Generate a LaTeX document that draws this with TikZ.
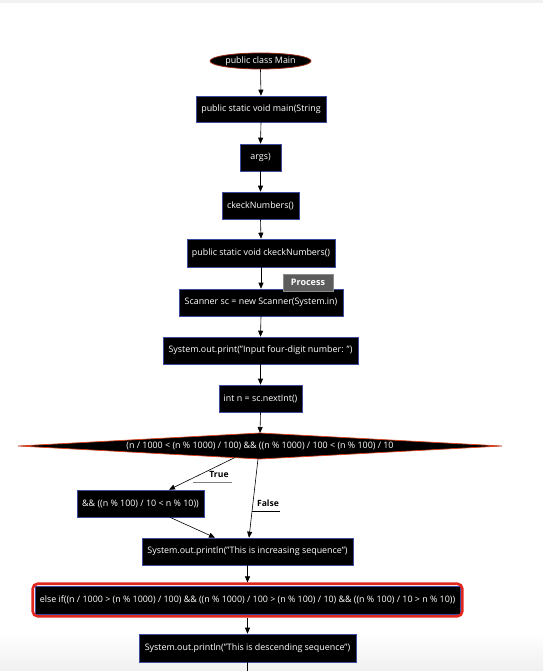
\documentclass[tikz,border=0pt]{standalone}
\usepackage{fontspec}
\setmainfont{Open Sans}
\usetikzlibrary{arrows.meta,calc,fit,shapes.geometric}
\definecolor{boxline}{HTML}{3A4A9E}
\definecolor{ovalline}{HTML}{9A2A14}
\definecolor{decline}{HTML}{E0401E}
\definecolor{hilite}{HTML}{E2281E}
\definecolor{tipfill}{HTML}{5C5C5C}
\definecolor{tipline}{HTML}{8C8C8C}
\definecolor{topband}{HTML}{F1F1F3}
\definecolor{floorgray}{HTML}{F0F0F0}
\tikzset{
  x=1pt, y=1pt,
  stepfont/.style={font=\fontsize{8.9}{10}\selectfont},
  stepbox/.style={rectangle, fill=black, draw=boxline, line width=0.6pt,
    text=white, stepfont, inner sep=0pt, align=center},
  flow/.style={draw=black, line width=0.6pt, -{Triangle[length=6pt,width=5pt]}},
  plain/.style={draw=black, line width=0.6pt},
  edgelabel/.style={font=\fontsize{8.6}{10}\selectfont\bfseries, text=black, inner sep=0pt}
}
\begin{document}
\begin{tikzpicture}
% canvas
\useasboundingbox (0,0) rectangle (543,-671);
\fill[white] (0,0) rectangle (543,-671);
\fill[topband] (0,0) rectangle (543,-3);
\shade[top color=white, bottom color=floorgray] (0,-632) rectangle (543,-671);

% start oval
\node[ellipse, fill=black, draw=ovalline, line width=0.8pt, minimum width=101pt,
  minimum height=16pt, inner sep=0pt, text=white, stepfont]
  (start) at (260.5,-61) {public class Main};

% process steps
\node[stepbox, minimum width=130pt, minimum height=26pt] (mainsig) at (261,-109) {public static void main(String};
\node[stepbox, minimum width=41pt, minimum height=27pt] (args) at (260.5,-157.5) {args)};
\node[stepbox, minimum width=77pt, minimum height=27pt] (call) at (260.5,-205.5) {ckeckNumbers()};
\node[stepbox, minimum width=148pt, minimum height=28pt] (checksig) at (261,-253) {public static void ckeckNumbers()};
\node[stepbox, minimum width=164pt, minimum height=27pt] (scan) at (261,-302.5) {Scanner sc = new Scanner(System.in)};
\node[stepbox, minimum width=195pt, minimum height=27pt] (prompt) at (260.5,-350.5) {System.out.print("Input four-digit number: ")};
\node[stepbox, minimum width=83pt, minimum height=27pt] (readn) at (260.5,-398.5) {int n = sc.nextInt()};

% decision
\coordinate (dl) at (18,-446);
\coordinate (dr) at (502,-446);
\coordinate (dt) at (260,-433);
\coordinate (db) at (260,-459);
\fill[black, draw=decline, line width=0.7pt] (dl) -- (dt) -- (dr) -- (db) -- cycle;
\node[stepfont, text=white, inner sep=0pt] (cond) at (260,-446)
  {(n / 1000 < (n \% 1000) / 100) \&\& ((n \% 1000) / 100 < (n \% 100) / 10};

\node[stepbox, minimum width=127pt, minimum height=27pt] (andpart) at (140.5,-503.5) {\&\& ((n \% 100) / 10 < n \% 10))};
\node[stepbox, minimum width=211pt, minimum height=27pt] (incr) at (247.5,-551.5) {System.out.println("This is increasing sequence")};
\node[stepbox, minimum width=425pt, minimum height=28pt] (elseif) at (247.5,-600)
  {else if((n / 1000 > (n \% 1000) / 100) \&\& ((n \% 1000) / 100 > (n \% 100) / 10) \&\& ((n \% 100) / 10 > n \% 10))};
\node[fit=(elseif), inner sep=2pt, draw=hilite, line width=2.6pt, rounded corners=5pt] (elsesel) {};
\node[stepbox, minimum width=217pt, minimum height=28pt] (decr) at (247.5,-648) {System.out.println("This is descending sequence")};
\coordinate (tail) at (247.5,-671);

% connectors
\draw[flow] (start.south) -- (mainsig.north);
\draw[flow] (mainsig.south) -- (args.north);
\draw[flow] (args.south) -- (call.north);
\draw[flow] (call.south) -- (checksig.north);
\draw[flow] (checksig.south) -- (scan.north);
\draw[flow] (scan.south) -- (prompt.north);
\draw[flow] (prompt.south) -- (readn.north);
\draw[flow] (readn.south) -- (dt);
\draw[flow] ($(db)+(-25,1.5)$) -- ($(andpart.north)+(28.5,0)$);
\draw[flow] ($(db)+(-2,0)$) -- ($(incr.north)+(1.5,0)$);
\draw[flow] ($(andpart.south)+(29.5,0)$) -- ($(incr.north)+(-32.5,0)$);
\draw[flow] (incr.south) -- (elsesel.north);
\draw[flow] (elsesel.south) -- (decr.north);
\draw[plain] (decr.south) -- (tail);

% branch labels
\node[edgelabel] (truelab) at (219,-474) {True};
\draw[gray, line width=0.8pt] (193,-482) -- (232,-482);
\node[edgelabel] (falselab) at (268,-503) {False};
\draw[black, line width=0.8pt] (252,-511) -- (280,-511);

% hover tag
\node[fill=tipfill, draw=tipline, line width=0.8pt, text=white, inner sep=0pt,
  minimum width=50pt, minimum height=17pt, font=\fontsize{9}{10}\selectfont\bfseries]
  (tag) at (308,-282.5) {Process};
\end{tikzpicture}
\end{document}
